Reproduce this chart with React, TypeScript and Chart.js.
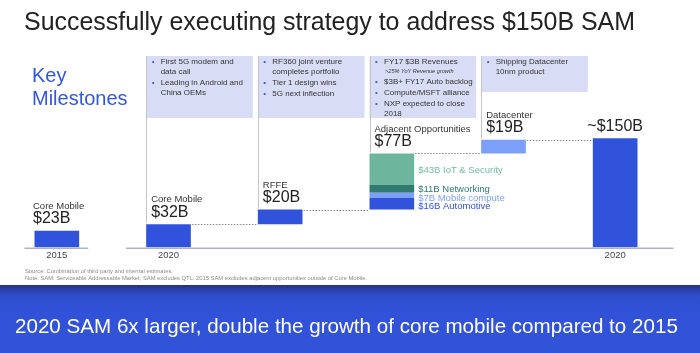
import React, { useEffect, useRef } from "react";
import { Chart, registerables } from "chart.js";

Chart.register(...registerables);

// ---------------- data ----------------
const categories = ["2015 Core Mobile", "2020 Core Mobile", "RFFE", "Adjacent Opportunities", "Datacenter", "2020 SAM"];
const tickLabels = ["2015", "2020", "", "", "", "2020"];
const headerLabels = ["Core Mobile", "Core Mobile", "RFFE", "Adjacent Opportunities", "Datacenter", ""];
const valueLabels = ["$23B", "$32B", "$20B", "$77B", "$19B", "~$150B"];

const coreMobile2015 = 23;
const coreMobile2020 = 32;
const rffe = 20;
const datacenter = 19;
const totalSam2020 = 150;

const adjacentNames = ["Automotive", "Mobile compute", "Networking", "IoT & Security"];
const adjacentValues = [16, 7, 11, 43];
const adjacentLabels = ["$16B Automotive", "$7B Mobile compute", "$11B Networking", "$43B IoT & Security"];

const callouts = [
  null,
  [{ lines: ["First 5G modem and", "data call"] }, { lines: ["Leading in Android and", "China OEMs"] }],
  [{ lines: ["RF360 joint venture", "completes portfolio"] }, { lines: ["Tier 1 design wins"] }, { lines: ["5G next inflection"] }],
  [
    { lines: ["FY17 $3B Revenues"], sub: ">25% YoY Revenue growth" },
    { lines: ["$3B+ FY17 Auto backlog"] },
    { lines: ["Compute/MSFT alliance"] },
    { lines: ["NXP expected to close", "2018"] },
  ],
  [{ lines: ["Shipping Datacenter", "10nm product"] }],
  null,
];

const titleText = "Successfully executing strategy to address $150B SAM";
const keyText = ["Key", "Milestones"];
const footnotes = [
  "Source: Combination of third party and internal estimates.",
  "Note: SAM: Serviceable Addressable Market; SAM excludes QTL. 2015 SAM excludes adjacent opportunities outside of Core Mobile.",
];
const bannerText = "2020 SAM 6x larger, double the growth of core mobile compared to 2015";

// ---------------- styles ----------------
const FONT = '"Liberation Sans", Arial, Helvetica, sans-serif';
const BLUE = "#3153db";
const LIGHT_BLUE = "#7c9ffa";
const adjacentColors = [BLUE, LIGHT_BLUE, "#2f7b70", "#6db69d"];
const adjacentTextColors = [BLUE, LIGHT_BLUE, "#2f7b70", "#74ba9f"];
const BOX_FILL = "#d8ddf5";
const BOX_TOP = 56;
const boxBottoms = [0, 118, 118, 118, 92, 0];

// build floating ranges from values
const adjStart = coreMobile2020 + rffe;
const adjEnds: number[] = [];
{
  let acc = adjStart;
  for (const v of adjacentValues) {
    acc += v;
    adjEnds.push(acc);
  }
}
const adjTotal = adjEnds[adjEnds.length - 1];
const columnTops = [coreMobile2015, coreMobile2020, adjStart, adjTotal, adjTotal + datacenter, totalSam2020];

const baseData: any[] = [[0, coreMobile2015], [0, coreMobile2020], [coreMobile2020, adjStart], null, null, [0, totalSam2020]];
const dcData: any[] = [null, null, null, null, [adjTotal, adjTotal + datacenter], null];

function text(ctx: CanvasRenderingContext2D, s: string, x: number, y: number, size: number, color: string, o: any = {}) {
  ctx.save();
  ctx.font = `${o.style || ""} ${o.weight || "normal"} ${size}px ${FONT}`;
  ctx.fillStyle = color;
  ctx.textAlign = o.align || "left";
  ctx.textBaseline = o.baseline || "middle";
  if (o.maxWidth) ctx.fillText(s, x, y, o.maxWidth);
  else ctx.fillText(s, x, y);
  ctx.restore();
}

const slidePlugin = {
  id: "slide",
  beforeDraw(chart: any) {
    const ctx = chart.ctx;
    ctx.save();
    ctx.fillStyle = "#ffffff";
    ctx.fillRect(0, 0, chart.width, chart.height);
    ctx.restore();
  },
  beforeDatasetsDraw(chart: any) {
    const ctx: CanvasRenderingContext2D = chart.ctx;
    const xs = chart.scales.x;
    const ys = chart.scales.y;
    const bw = chart.getDatasetMeta(0).data[0].width;
    // callout boxes and their guide lines
    for (let i = 0; i < categories.length; i++) {
      const items = callouts[i];
      if (!items) continue;
      const left = xs.getPixelForValue(i) - bw / 2;
      const boxW = (xs.getPixelForValue(1) - xs.getPixelForValue(0)) - 5;
      ctx.fillStyle = BOX_FILL;
      ctx.fillRect(left, BOX_TOP, boxW, boxBottoms[i] - BOX_TOP);
      // guide line
      const top = ys.getPixelForValue(columnTops[i]);
      ctx.strokeStyle = "#c4c4c4";
      ctx.lineWidth = 1;
      ctx.beginPath();
      ctx.moveTo(Math.round(left) + 0.5, BOX_TOP);
      ctx.lineTo(Math.round(left) + 0.5, top - 1);
      ctx.stroke();
      // bullets
      let y = 62;
      items.forEach((it: any, k: number) => {
        if (k > 0) y += 11;
        text(ctx, "•", left + 5.5, y, 8, "#3a5ad8");
        it.lines.forEach((ln: string, j: number) => {
          if (j > 0) y += 10;
          text(ctx, ln, left + 14.5, y, 8, "#333333");
        });
        if (it.sub) {
          y += 9;
          text(ctx, it.sub, left + 15.5, y, 5.6, "#333333", { style: "italic" });
        }
      });
    }
  },
  afterDatasetsDraw(chart: any) {
    const ctx: CanvasRenderingContext2D = chart.ctx;
    const xs = chart.scales.x;
    const ys = chart.scales.y;
    const area = chart.chartArea;
    const bw = chart.getDatasetMeta(0).data[0].width;
    const L = (i: number) => xs.getPixelForValue(i) - bw / 2;
    const R = (i: number) => xs.getPixelForValue(i) + bw / 2;
    const T = (i: number) => ys.getPixelForValue(columnTops[i]);

    // dotted connectors
    ctx.save();
    ctx.strokeStyle = "#8a8a8a";
    ctx.lineWidth = 1;
    ctx.setLineDash([1.5, 1.5]);
    for (let i = 1; i < categories.length - 1; i++) {
      const y = Math.round(T(i)) + 0.5;
      ctx.beginPath();
      ctx.moveTo(R(i) + 1, y);
      ctx.lineTo(L(i + 1) - 1, y);
      ctx.stroke();
    }
    ctx.restore();

    // broken axis baseline
    ctx.save();
    ctx.strokeStyle = "#aeb2c6";
    ctx.lineWidth = 1.5;
    const by = area.bottom + 0.75;
    ctx.beginPath();
    ctx.moveTo(L(0) - 10, by);
    ctx.lineTo(R(0) + 9, by);
    ctx.moveTo(L(1) - 20, by);
    ctx.lineTo(R(5) + 36, by);
    ctx.stroke();
    ctx.restore();

    // column labels
    for (let i = 0; i < categories.length; i++) {
      const top = T(i);
      if (i === 5) {
        text(ctx, valueLabels[i], xs.getPixelForValue(i), top - 12, 16, "#222222", { align: "center" });
        continue;
      }
      const lx = i === 0 ? L(i) - 1.5 : L(i) + 5;
      text(ctx, headerLabels[i], lx, top - 24.5, 9.5, "#333333");
      text(ctx, valueLabels[i], lx, top - 12, 16, "#222222");
    }

    // adjacent segment labels
    const ax = R(3) + 4;
    const bottomAdj = ys.getPixelForValue(adjStart);
    const offs = [-3, -11, -20.5];
    adjacentLabels.forEach((s, k) => {
      let y;
      if (k < 3) y = bottomAdj + offs[k];
      else {
        const a = ys.getPixelForValue(adjEnds[2]);
        const b = ys.getPixelForValue(adjEnds[3]);
        y = (a + b) / 2 + 1.5;
      }
      text(ctx, s, ax, y, 9.5, adjacentTextColors[k]);
    });
  },
  afterDraw(chart: any) {
    const ctx: CanvasRenderingContext2D = chart.ctx;
    // title
    text(ctx, titleText, 24, 29.5, 25, "#222222", { baseline: "alphabetic", maxWidth: 611 });
    // key milestones
    text(ctx, keyText[0], 32, 81.7, 20, "#3355df", { baseline: "alphabetic" });
    text(ctx, keyText[1], 32, 105, 20, "#3355df", { baseline: "alphabetic" });
    // footnotes
    text(ctx, footnotes[0], 25, 271, 5.8, "#8a8a8a", { maxWidth: 150 });
    text(ctx, footnotes[1], 25, 278.3, 5.8, "#8a8a8a", { maxWidth: 348 });
    // banner
    const g = ctx.createLinearGradient(0, 285, 0, 353);
    g.addColorStop(0, "#24337f");
    g.addColorStop(0.06, "#2a3ea8");
    g.addColorStop(0.16, "#2f4dcc");
    g.addColorStop(0.35, "#3152d7");
    g.addColorStop(1, "#3153d8");
    ctx.fillStyle = g;
    ctx.fillRect(0, 285, 700, 68);
    text(ctx, bannerText, 15, 327.7, 20.6, "#ffffff", { maxWidth: 664 });
  },
};

export default function App() {
  const ref = useRef<HTMLCanvasElement | null>(null);
  useEffect(() => {
    if (!ref.current) return;
    const datasets: any[] = [
      { label: "Core Mobile / RFFE / SAM", data: baseData, backgroundColor: BLUE },
      ...adjacentNames.map((n, k) => ({
        label: n,
        data: categories.map((_, i) => (i === 3 ? [k === 0 ? adjStart : adjEnds[k - 1], adjEnds[k]] : null)),
        backgroundColor: adjacentColors[k],
      })),
      { label: "Datacenter", data: dcData, backgroundColor: LIGHT_BLUE },
    ];
    const chart = new Chart(ref.current, {
      type: "bar",
      data: { labels: categories, datasets },
      options: {
        responsive: false,
        maintainAspectRatio: false,
        animation: false,
        devicePixelRatio: 1,
        layout: { padding: { left: 1, right: 29, top: 56, bottom: 90.1 } },
        datasets: { bar: { grouped: false, barPercentage: 0.4, categoryPercentage: 1, borderWidth: 0 } } as any,
        plugins: { legend: { display: false }, tooltip: { enabled: false }, title: { display: false } },
        scales: {
          x: {
            grid: { display: false, drawTicks: false },
            border: { display: false },
            ticks: {
              padding: 2,
              color: "#444444",
              font: { size: 9.5, family: FONT },
              autoSkip: false,
              maxRotation: 0,
              callback: (_v: any, i: number) => tickLabels[i],
            },
          },
          y: { display: false, min: 0, max: 262.8 },
        },
      },
      plugins: [slidePlugin],
    });
    return () => chart.destroy();
  }, []);
  return (
    <div style={{ position: "fixed", left: 0, top: 0, width: 700, height: 353, background: "#fff" }}>
      <canvas ref={ref} width={700} height={353} style={{ width: 700, height: 353, display: "block" }} />
    </div>
  );
}
